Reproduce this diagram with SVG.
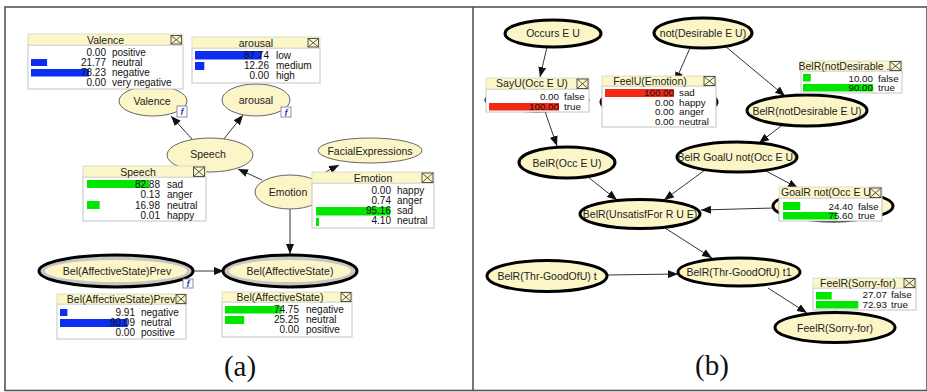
<svg xmlns="http://www.w3.org/2000/svg" width="927" height="392" viewBox="0 0 927 392">
<style>
.frame{fill:none;stroke:#555;stroke-width:1.6}
.hdr{fill:#fbf7c9;stroke:#d6d6c4;stroke-width:0.8}
.body{fill:#fff;stroke:#c4c4c4;stroke-width:1}
.cb{fill:none;stroke:#444;stroke-width:0.9}
.ttl{font-family:"Liberation Sans",Arial,sans-serif;font-size:10.5px;fill:#222;text-anchor:middle}
.num{font-family:"Liberation Sans",Arial,sans-serif;font-size:10px;fill:#111;text-anchor:end}
.lab{font-family:"Liberation Sans",Arial,sans-serif;font-size:10px;fill:#111}
.r .num,.r .lab{font-size:9.8px}
.blue{fill:#0b2ef2}.green{fill:#00e600}.red{fill:#f22a14}
.node{fill:#fbf5c8;stroke:#666;stroke-width:1}
.nodeB{fill:#fbf5c8;stroke:#000;stroke-width:3}
.ring{fill:#c6c6c6;stroke:#000;stroke-width:3}
.inner{fill:#fbf5c8}
.nl{font-family:"Liberation Sans",Arial,sans-serif;font-size:10.5px;fill:#222;text-anchor:middle}
.fb{fill:#fff;stroke:#777;stroke-width:0.8}
.ft{font-family:"Liberation Sans",Arial,sans-serif;font-size:9px;font-weight:bold;font-style:italic;fill:#1a3ae0;text-anchor:middle}
.edge{stroke:#333;stroke-width:1;fill:none;marker-end:url(#ah)}
.cap{font-family:"Liberation Serif","Times New Roman",serif;font-size:29px;fill:#111;text-anchor:middle}
</style>
<defs>
<marker id="ah" markerUnits="userSpaceOnUse" markerWidth="10" markerHeight="8" refX="10" refY="4" orient="auto">
<path d="M0,0 L10,4 L0,8 z" fill="#111"/>
</marker>
</defs>
<rect x="0" y="0" width="927" height="392" fill="#fff"/>
<rect class="frame" x="5" y="7" width="922" height="383.5"/>
<line class="frame" x1="473" y1="7" x2="473" y2="390.5"/>

<g id="connectors">
<line class="edge" x1="193" y1="140" x2="171" y2="116"/>
<line class="edge" x1="223" y1="140" x2="243" y2="115"/>
<line class="edge" x1="262" y1="180" x2="238" y2="169"/>
<line class="edge" x1="310" y1="180" x2="339" y2="165"/>
<line class="edge" x1="290" y1="209" x2="290" y2="254"/>
<line class="edge" x1="193" y1="271" x2="224" y2="271"/>
<line class="edge" x1="547" y1="47" x2="540" y2="77"/>
<line class="edge" x1="541" y1="100" x2="557" y2="146"/>
<line class="edge" x1="690" y1="48" x2="675" y2="82"/>
<line class="edge" x1="725" y1="46" x2="785" y2="96"/>
<line class="edge" x1="781" y1="126" x2="759" y2="143"/>
<line class="edge" x1="588" y1="177" x2="617" y2="200"/>
<line class="edge" x1="705" y1="170" x2="664" y2="200"/>
<line class="edge" x1="766" y1="171" x2="798" y2="188"/>
<line class="edge" x1="774" y1="208" x2="701" y2="210"/>
<line class="edge" x1="665" y1="228" x2="712" y2="258"/>
<line class="edge" x1="607" y1="275" x2="678" y2="274"/>
<line class="edge" x1="768" y1="288" x2="807" y2="313"/>
</g>

<g id="node-valence"><ellipse class="node" cx="153" cy="101" rx="34" ry="15"/><text class="nl" x="152" y="105">Valence</text><rect class="fb" x="177" y="106" width="10" height="11"/><text class="ft" x="182" y="115">f</text></g>
<g id="node-arousal"><ellipse class="node" cx="256" cy="100" rx="34" ry="16"/><text class="nl" x="256" y="104">arousal</text><rect class="fb" x="281" y="107" width="10" height="10"/><text class="ft" x="286" y="115.5">f</text></g>
<g id="node-speech"><ellipse class="node" cx="210" cy="155" rx="43" ry="17"/><text class="nl" x="208" y="158">Speech</text></g>
<g id="node-emotion"><ellipse class="node" cx="290" cy="192" rx="35" ry="17"/><text class="nl" x="288" y="196">Emotion</text></g>
<g id="node-facial"><ellipse class="node" cx="370" cy="150.5" rx="52" ry="12.5"/><text class="nl" x="370" y="154.5">FacialExpressions</text></g>
<g id="node-prev"><ellipse class="ring" cx="116" cy="271" rx="77" ry="16"/><ellipse class="inner" cx="116" cy="271" rx="71" ry="11"/><text class="nl" x="117" y="274.5">Bel(AffectiveState)Prev</text><rect class="fb" x="183" y="279" width="10" height="9"/><text class="ft" x="188" y="286.5">f</text></g>
<g id="node-bel"><ellipse class="ring" cx="290" cy="271" rx="67" ry="16"/><ellipse class="inner" cx="290" cy="271" rx="61" ry="11"/><text class="nl" x="290" y="274.5">Bel(AffectiveState)</text></g>

<g id="node-occurs"><ellipse class="nodeB" cx="553" cy="33.5" rx="48" ry="13.5"/><text class="nl" x="553" y="37">Occurs E U</text></g>
<g id="node-notdes"><ellipse class="nodeB" cx="703" cy="33" rx="49" ry="15"/><text class="nl" x="703" y="37">not(Desirable E U)</text></g>
<g id="node-sayu"><ellipse class="nodeB" cx="537" cy="100" rx="51" ry="11"/></g>
<g id="node-feelu"><ellipse class="nodeB" cx="659" cy="102" rx="58" ry="15"/></g>
<g id="node-belrnotdes"><ellipse class="nodeB" cx="807" cy="110.5" rx="60" ry="15.5"/><text class="nl" x="807" y="114.5">BelR(notDesirable E U)</text></g>
<g id="node-belrocc"><ellipse class="nodeB" cx="567" cy="162.5" rx="48" ry="15.5"/><text class="nl" x="567" y="166.5">BelR(Occ E U)</text></g>
<g id="node-goalu"><ellipse class="nodeB" cx="737" cy="157" rx="60" ry="15"/><text class="nl" x="737" y="161">BelR GoalU not(Occ E U)</text></g>
<g id="node-goalr"><ellipse class="nodeB" cx="833" cy="206" rx="60" ry="15"/></g>
<g id="node-unsat"><ellipse class="nodeB" cx="640" cy="214" rx="60" ry="14.5"/><text class="nl" x="640" y="218">BelR(UnsatisfFor R U E)</text></g>
<g id="node-thrt"><ellipse class="nodeB" cx="547" cy="276" rx="60" ry="15.5"/><text class="nl" x="547" y="280">BelR(Thr-GoodOfU) t</text></g>
<g id="node-thrt1"><ellipse class="nodeB" cx="739" cy="272" rx="61" ry="14"/><text class="nl" x="739" y="276">BelR(Thr-GoodOfU) t1</text></g>
<g id="node-feelr"><ellipse class="nodeB" cx="835" cy="327.5" rx="60" ry="15"/><text class="nl" x="835" y="331.5">FeelR(Sorry-for)</text></g>

<g id="tbl-valence">
<rect class="body" x="28" y="45" width="155" height="44"/><rect class="hdr" x="28" y="34" width="155" height="11"/>
<text class="ttl" x="105.5" y="43.5">Valence</text>
<rect class="cb" x="171" y="35.5" width="10.5" height="8.5"/><path class="cb" d="M171,35.5 l10.5,8.5 M181.5,35.5 l-10.5,8.5"/>
<rect class="blue" x="31" y="59" width="16.1" height="7"/><rect class="blue" x="31" y="69" width="57.9" height="7.5"/>
<text class="num" x="106" y="56">0.00</text><text class="lab" x="112" y="56">positive</text>
<text class="num" x="106" y="66">21.77</text><text class="lab" x="112" y="66">neutral</text>
<text class="num" x="106" y="76">78.23</text><text class="lab" x="112" y="76">negative</text>
<text class="num" x="106" y="86">0.00</text><text class="lab" x="112" y="86">very negative</text>
</g>
<g id="tbl-arousal">
<rect class="body" x="192" y="48" width="128" height="35"/><rect class="hdr" x="192" y="37" width="128" height="11"/>
<text class="ttl" x="256" y="46.5">arousal</text>
<rect class="cb" x="308" y="38.5" width="10.5" height="8.5"/><path class="cb" d="M308,38.5 l10.5,8.5 M318.5,38.5 l-10.5,8.5"/>
<rect class="blue" x="195" y="51" width="66.7" height="8.5"/><rect class="blue" x="195" y="62" width="9.3" height="8"/>
<text class="num" x="269" y="59">87.74</text><text class="lab" x="276" y="59">low</text>
<text class="num" x="269" y="69">12.26</text><text class="lab" x="276" y="69">medium</text>
<text class="num" x="269" y="79">0.00</text><text class="lab" x="276" y="79">high</text>
</g>
<g id="tbl-speech">
<rect class="body" x="83" y="177" width="123" height="44"/><rect class="hdr" x="83" y="166" width="123" height="11"/>
<text class="ttl" x="138" y="175.5">Speech</text>
<rect class="cb" x="193.5" y="167" width="11" height="9.5"/><path class="cb" d="M193.5,167 l11,9.5 M204.5,167 l-11,9.5"/>
<rect class="green" x="87" y="180" width="62.2" height="8"/><rect class="green" x="87" y="201" width="12.7" height="8"/>
<text class="num" x="160" y="187.5">82.88</text><text class="lab" x="167" y="187.5">sad</text>
<text class="num" x="160" y="198">0.13</text><text class="lab" x="167" y="198">anger</text>
<text class="num" x="160" y="208.5">16.98</text><text class="lab" x="167" y="208.5">neutral</text>
<text class="num" x="160" y="219">0.01</text><text class="lab" x="167" y="219">happy</text>
</g>
<g id="tbl-emotion">
<rect class="body" x="312" y="183" width="122" height="45"/><rect class="hdr" x="312" y="172" width="122" height="11"/>
<text class="ttl" x="373" y="181.5">Emotion</text>
<rect class="cb" x="422" y="173" width="11" height="9.5"/><path class="cb" d="M422,173 l11,9.5 M433,173 l-11,9.5"/>
<rect class="green" x="316" y="207" width="74.2" height="8.5"/><rect class="green" x="316" y="218" width="3" height="8"/>
<text class="num" x="391" y="194">0.00</text><text class="lab" x="397" y="194">happy</text>
<text class="num" x="391" y="204">0.74</text><text class="lab" x="397" y="204">anger</text>
<text class="num" x="391" y="214">95.16</text><text class="lab" x="397" y="214">sad</text>
<text class="num" x="391" y="224">4.10</text><text class="lab" x="397" y="224">neutral</text>
</g>
<g id="tbl-prev">
<rect class="body" x="57" y="304" width="129" height="35"/><rect class="hdr" x="57" y="294" width="129" height="10"/>
<text class="ttl" x="121" y="302.5">Bel(AffectiveState)Prev</text>
<rect class="cb" x="176" y="294.5" width="10" height="9" style="fill:#fbf7c9"/><path class="cb" d="M176,294.5 l10,9 M186,294.5 l-10,9"/>
<rect class="blue" x="60" y="309" width="7.4" height="7"/><rect class="blue" x="60" y="319" width="67.6" height="8"/>
<text class="num" x="135" y="316">9.91</text><text class="lab" x="141" y="316">negative</text>
<text class="num" x="135" y="326">90.09</text><text class="lab" x="141" y="326">neutral</text>
<text class="num" x="135" y="336">0.00</text><text class="lab" x="141" y="336">positive</text>
</g>
<g id="tbl-bel">
<rect class="body" x="222" y="302" width="130" height="35"/><rect class="hdr" x="222" y="292" width="130" height="10"/>
<text class="ttl" x="280" y="300.5">Bel(AffectiveState)</text>
<rect class="cb" x="341" y="292.5" width="10" height="9"/><path class="cb" d="M341,292.5 l10,9 M351,292.5 l-10,9"/>
<rect class="green" x="225" y="306" width="56.8" height="7.5"/><rect class="green" x="225" y="316" width="19.2" height="8"/>
<text class="num" x="299" y="313">74.75</text><text class="lab" x="306" y="313">negative</text>
<text class="num" x="299" y="323">25.25</text><text class="lab" x="306" y="323">neutral</text>
<text class="num" x="299" y="333">0.00</text><text class="lab" x="306" y="333">positive</text>
</g>

<g id="tbl-sayu" class="r">
<rect class="body" x="486" y="89" width="103" height="23"/><rect class="hdr" x="486" y="78" width="103" height="11"/>
<text class="ttl" x="532" y="87">SayU(Occ E U)</text>
<rect class="cb" x="577" y="79" width="11" height="9.5"/><path class="cb" d="M577,79 l11,9.5 M588,79 l-11,9.5"/>
<rect class="red" x="489" y="103" width="70" height="7.5"/>
<text class="num" x="559" y="100">0.00</text><text class="lab" x="564" y="100">false</text>
<text class="num" x="559" y="110">100.00</text><text class="lab" x="564" y="110">true</text>
</g>
<g id="tbl-feelu" class="r">
<rect class="body" x="602" y="86" width="114" height="41"/><rect class="hdr" x="602" y="76" width="114" height="10"/>
<text class="ttl" x="650" y="84.5">FeelU(Emotion)</text>
<rect class="cb" x="704" y="76.5" width="11" height="9"/><path class="cb" d="M704,76.5 l11,9 M715,76.5 l-11,9"/>
<rect class="red" x="605" y="89" width="69" height="8"/>
<text class="num" x="674" y="96">100.00</text><text class="lab" x="679" y="96">sad</text>
<text class="num" x="674" y="105.5">0.00</text><text class="lab" x="679" y="105.5">happy</text>
<text class="num" x="674" y="115">0.00</text><text class="lab" x="679" y="115">anger</text>
<text class="num" x="674" y="124.5">0.00</text><text class="lab" x="679" y="124.5">neutral</text>
</g>
<g id="tbl-belrnotdes" class="r">
<rect class="body" x="801" y="71" width="101" height="22"/><rect class="hdr" x="801" y="61" width="101" height="10"/>
<text class="ttl" x="844" y="69.5">BelR(notDesirable .</text>
<rect class="cb" x="890" y="61.5" width="11" height="9"/><path class="cb" d="M890,61.5 l11,9 M901,61.5 l-11,9"/>
<rect class="green" x="803" y="74" width="7.8" height="7.5"/><rect class="green" x="803" y="84" width="70.2" height="7.5"/>
<text class="num" x="873" y="81.5">10.00</text><text class="lab" x="878" y="81.5">false</text>
<text class="num" x="873" y="91">90.00</text><text class="lab" x="878" y="91">true</text>
</g>
<g id="tbl-goalr" class="r">
<rect class="body" x="779" y="198" width="103" height="23"/><rect class="hdr" x="779" y="187" width="103" height="11"/>
<text class="ttl" x="826" y="196">GoalR not(Occ E U</text>
<rect class="cb" x="870" y="188" width="11" height="9.5"/><path class="cb" d="M870,188 l11,9.5 M881,188 l-11,9.5"/>
<rect class="green" x="783" y="202" width="17.3" height="8"/><rect class="green" x="783" y="212" width="53.7" height="7.5"/>
<text class="num" x="853" y="209.5">24.40</text><text class="lab" x="858" y="209.5">false</text>
<text class="num" x="853" y="219">75.60</text><text class="lab" x="858" y="219">true</text>
</g>
<g id="tbl-feelr" class="r">
<rect class="body" x="813" y="288" width="103" height="22"/><rect class="hdr" x="813" y="278" width="103" height="10"/>
<text class="ttl" x="858" y="286.5">FeelR(Sorry-for)</text>
<rect class="cb" x="904" y="278.5" width="11" height="9"/><path class="cb" d="M904,278.5 l11,9 M915,278.5 l-11,9"/>
<rect class="green" x="816" y="292" width="15.7" height="7.5"/><rect class="green" x="816" y="301" width="42.3" height="7.5"/>
<text class="num" x="887" y="298">27.07</text><text class="lab" x="891" y="298">false</text>
<text class="num" x="887" y="307.5">72.93</text><text class="lab" x="891" y="307.5">true</text>
</g>

<text class="cap" x="240" y="376">(a)</text>
<text class="cap" x="712" y="375">(b)</text>
</svg>
